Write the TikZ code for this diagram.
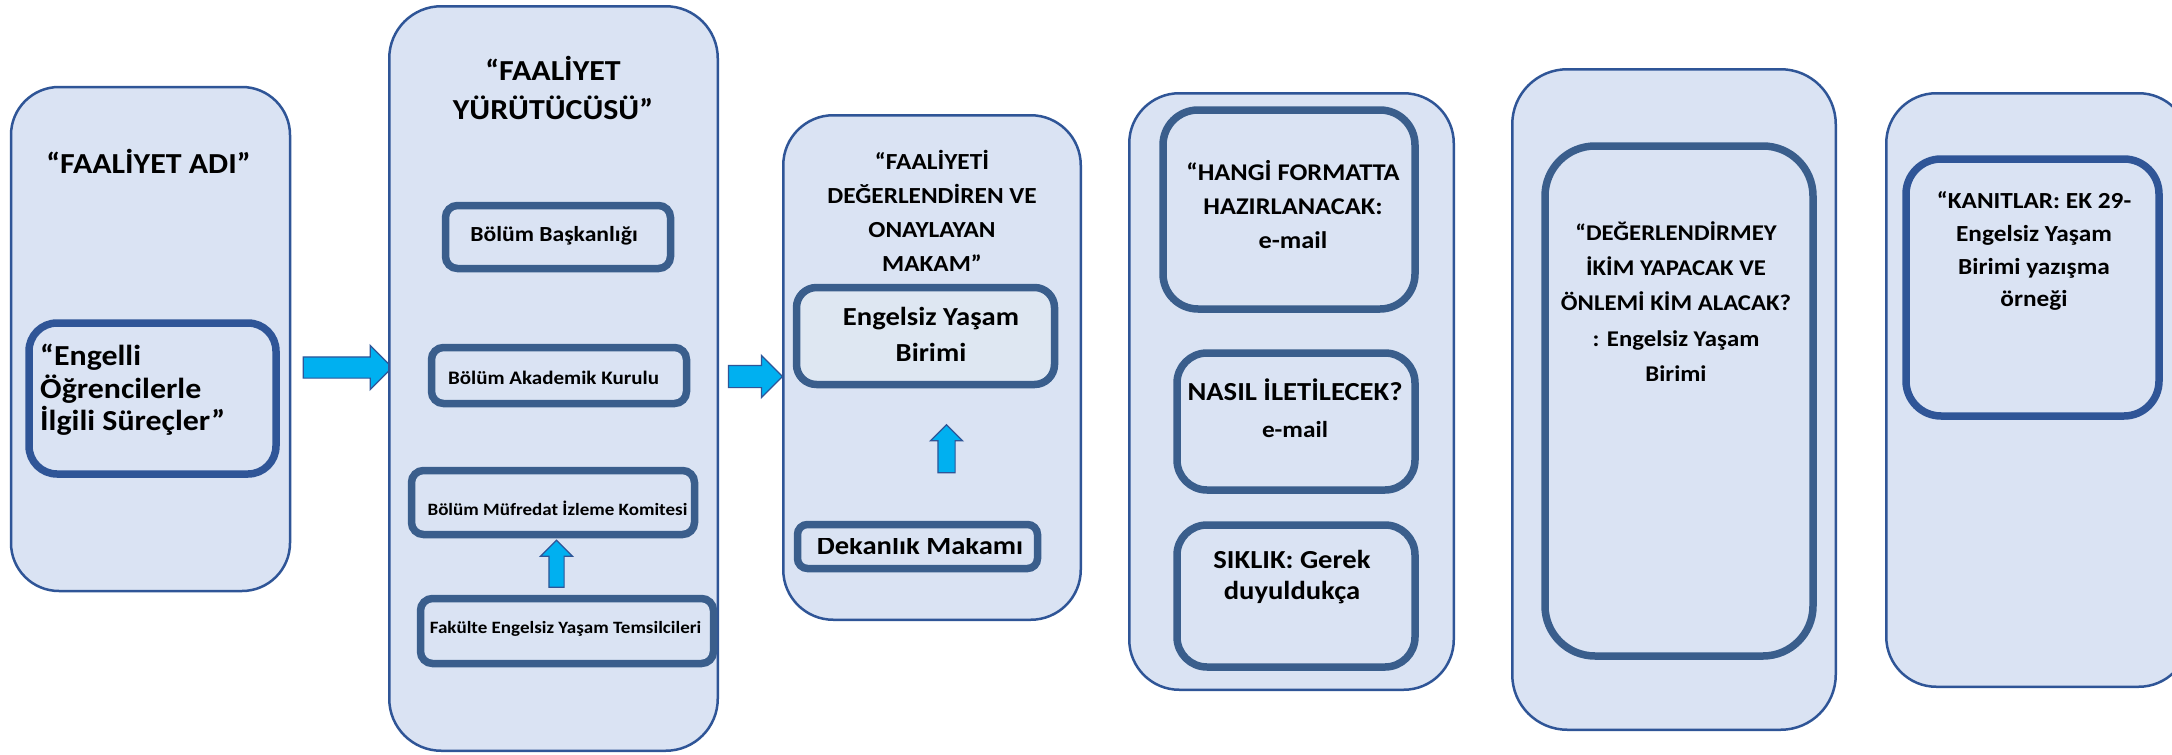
\documentclass[tikz,border=0pt]{standalone}
\usepackage{fontspec}
\setmainfont{Carlito}[FakeStretch=1.1]
\usetikzlibrary{shapes.arrows}
\definecolor{boxfill}{RGB}{218,227,243}
\definecolor{boxline}{RGB}{47,85,151}
\definecolor{innerline}{RGB}{58,94,140}
\definecolor{lightfill}{RGB}{222,231,242}
\definecolor{arrowfill}{RGB}{0,176,240}
\newcommand\fsz[2]{\fontsize{#1}{#2}\selectfont\bfseries}
\newcommand\tstrut{\rule{0pt}{0.9em}}
\begin{document}
\begin{tikzpicture}[x=1pt,y=-1pt,
 outerbox/.style={draw=boxline, fill=boxfill, line width=2.5pt, rectangle, inner sep=0pt},
 innerbox/.style={draw=innerline, fill=boxfill, line width=7.5pt, rectangle, inner sep=0pt},
 blueinner/.style={innerbox, draw=boxline},
 txt/.style={anchor=north, inner sep=0pt, align=center, text=black},
 blockarrow/.style={single arrow, draw=boxline, fill=arrowfill, line width=1.2pt, single arrow head indent=0pt},
]
\clip (0,0) rectangle (2172,755);
\fill[white] (0,0) rectangle (2172,755);

% column 1
\node[outerbox, rounded corners=48pt, minimum width=279pt, minimum height=504pt] (b1) at (150.5,339) {};
\node[blueinner, rounded corners=28pt, minimum width=247pt, minimum height=151pt] (b1in) at (152.5,398.5) {};
\node[txt, font=\fsz{29}{33}] (t1) at (148.5,147.2) {\tstrut“FAALİYET ADI”};
\node[txt, anchor=north west, align=left, font=\fsz{29}{32.5}] (t2) at (40,339.2) {\tstrut“Engelli\\Öğrencilerle\\İlgili Süreçler”};

\node[blockarrow, inner sep=10pt, minimum height=89pt, single arrow head extend=11.5pt] (a1) at (342.5,367.5) {};

% column 2
\node[outerbox, rounded corners=52pt, minimum width=328.5pt, minimum height=744.5pt] (b2) at (553.5,378.5) {};
\node[txt, font=\fsz{29}{39}] (t3) at (553,54.2) {\tstrut“FAALİYET\\YÜRÜTÜCÜSÜ”};
\node[innerbox, rounded corners=12pt, minimum width=225pt, minimum height=63pt] (b2a) at (558,237) {};
\node[innerbox, rounded corners=12pt, minimum width=255pt, minimum height=56pt] (b2b) at (559,375.5) {};
\node[innerbox, rounded corners=12pt, minimum width=283pt, minimum height=64pt] (b2c) at (553,502.5) {};
\node[innerbox, rounded corners=12pt, minimum width=293pt, minimum height=65pt] (b2d) at (567,631) {};
\node[txt, font=\fsz{21.5}{26}] (t4) at (554,222.1) {\tstrut Bölüm Başkanlığı};
\node[txt, font=\fsz{19.1}{23}] (t5) at (553.5,367) {\tstrut Bölüm Akademik Kurulu};
\node[txt, font=\fsz{17.3}{21}] (t6) at (557.5,500) {\tstrut Bölüm Müfredat İzleme Komitesi};
\node[txt, font=\fsz{17.3}{21}] (t7) at (565.5,618) {\tstrut Fakülte Engelsiz Yaşam Temsilcileri};
\node[blockarrow, shape border rotate=90, inner sep=7pt, minimum height=47pt, single arrow head extend=8.5pt] (a3) at (556.5,567.5) {};

\node[blockarrow, inner sep=10.5pt, minimum height=54pt, single arrow head extend=10pt] (a2) at (750,376.5) {};

% column 3
\node[outerbox, rounded corners=50pt, minimum width=297.5pt, minimum height=504.5pt] (b3) at (932,367.5) {};
\node[txt, font=\fsz{23}{34}] (t8) at (932,148.7) {\tstrut“FAALİYETİ\\DEĞERLENDİREN VE\\ONAYLAYAN\\MAKAM”};
\node[innerbox, fill=lightfill, rounded corners=20pt, minimum width=258pt, minimum height=97pt] (b3a) at (925.5,336) {};
\node[txt, font=\fsz{26}{36}] (t9) at (931,302) {\tstrut Engelsiz Yaşam\\Birimi};
\node[blockarrow, shape border rotate=90, inner sep=8pt, minimum height=48pt, single arrow head extend=7.5pt] (a4) at (946.5,453) {};
\node[innerbox, rounded corners=10pt, minimum width=240pt, minimum height=44pt] (b3b) at (917.5,546.5) {};
\begin{scope}
\clip (794,538.5) rectangle (1041,572);
\node[anchor=base, inner sep=0pt, font=\fsz{26}{31}] (t10) at (920,554) {Dekanlık Makamı};
\end{scope}

% column 4
\node[outerbox, rounded corners=50pt, minimum width=324.5pt, minimum height=596.5pt] (b4) at (1291.5,391.5) {};
\node[innerbox, rounded corners=35pt, minimum width=252pt, minimum height=199pt] (b4a) at (1289,209.5) {};
\node[innerbox, rounded corners=30pt, minimum width=238pt, minimum height=137pt] (b4b) at (1296,421.5) {};
\node[innerbox, rounded corners=30pt, minimum width=238pt, minimum height=142pt] (b4c) at (1296,596) {};
\node[txt, font=\fsz{24}{34}] (t11) at (1293,159.1) {\tstrut“HANGİ FORMATTA\\HAZIRLANACAK:\\e-mail};
\node[txt, font=\fsz{26}{31}] (t12) at (1295,377) {\tstrut NASIL İLETİLECEK?};
\node[txt, font=\fsz{23}{28}] (t13) at (1295,416.7) {\tstrut e-mail};
\node[txt, font=\fsz{26}{31}] (t14) at (1292,545) {\tstrut SIKLIK: Gerek\\duyuldukça};

% column 5
\node[outerbox, rounded corners=55pt, minimum width=323.5pt, minimum height=660.5pt] (b5) at (1674,399.5) {};
\node[innerbox, rounded corners=50pt, minimum width=268pt, minimum height=510pt] (b5a) at (1679,401) {};
\node[txt, font=\fsz{22.5}{35.25}] (t15) at (1676,220) {\tstrut“DEĞERLENDİRMEY\\İKİM YAPACAK VE\\ÖNLEMİ KİM ALACAK?\\: Engelsiz Yaşam\\Birimi};

% column 6
\node[outerbox, rounded corners=50pt, minimum width=302.5pt, minimum height=593.5pt] (b6) at (2037.5,390) {};
\node[blueinner, rounded corners=35pt, minimum width=253pt, minimum height=257pt] (b6a) at (2032.5,287.5) {};
\node[txt, font=\fsz{23}{32.7}] (t16) at (2034,187.7) {\tstrut“KANITLAR: EK 29-\\Engelsiz Yaşam\\Birimi yazışma\\örneği};
\end{tikzpicture}
\end{document}
